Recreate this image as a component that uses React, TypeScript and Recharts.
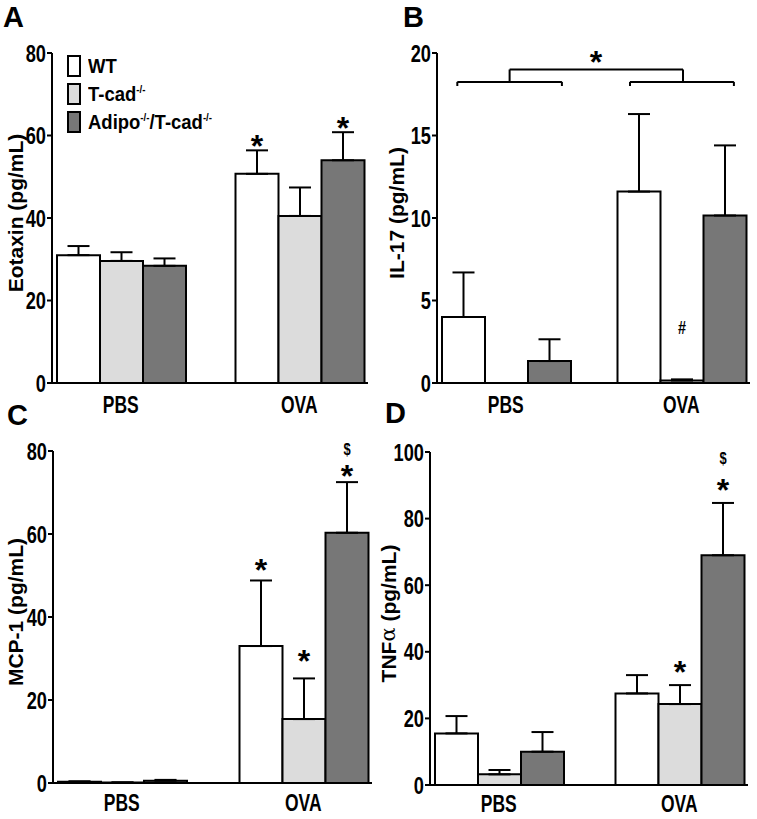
import React from 'react';
import {
  BarChart,
  Bar,
  XAxis,
  YAxis,
  ErrorBar,
  LabelList,
  Legend,
  Label,
  ReferenceLine,
  ReferenceDot,
} from 'recharts';

const FONT = '"Liberation Sans", Arial, sans-serif';
const NARROW = 0.76; // the figure uses a condensed face; squeeze Liberation Sans to match

const categories = ['PBS', 'OVA'];

// A - Eotaxin
const eotaxinWT = [31.0, 50.7];
const eotaxinWTErr = [2.2, 5.7];
const eotaxinTcad = [29.6, 40.5];
const eotaxinTcadErr = [2.1, 6.9];
const eotaxinAdipo = [28.4, 54.0];
const eotaxinAdipoErr = [1.8, 6.8];

// B - IL-17
const il17WT = [4.0, 11.6];
const il17WTErr = [2.7, 4.7];
const il17Tcad = [0, 0.15];
const il17TcadErr = [0, 0.07];
const il17Adipo = [1.33, 10.15];
const il17AdipoErr = [1.32, 4.25];

// C - MCP-1
const mcpWT = [0.3, 33.0];
const mcpWTErr = [0.1, 15.8];
const mcpTcad = [0.1, 15.4];
const mcpTcadErr = [0.05, 9.8];
const mcpAdipo = [0.55, 60.3];
const mcpAdipoErr = [0.2, 12.2];

// D - TNFa
const tnfWT = [15.5, 27.5];
const tnfWTErr = [5.2, 5.5];
const tnfTcad = [3.2, 24.3];
const tnfTcadErr = [1.3, 5.7];
const tnfAdipo = [10.0, 69.0];
const tnfAdipoErr = [5.9, 15.7];

// significance marks (symbol centre, in data units)
const eotaxinMarks = [
  { series: 'wt', cat: 'OVA', sym: '*', y: 59.2 },
  { series: 'adipo', cat: 'OVA', sym: '*', y: 63.6 },
];
const il17Marks = [{ series: 'tcad', cat: 'OVA', sym: '#', y: 3.4 }];
const mcpMarks = [
  { series: 'wt', cat: 'OVA', sym: '*', y: 52.9 },
  { series: 'tcad', cat: 'OVA', sym: '*', y: 31.0 },
  { series: 'adipo', cat: 'OVA', sym: '*', y: 75.7 },
  { series: 'adipo', cat: 'OVA', sym: '$', y: 80.6 },
];
const tnfMarks = [
  { series: 'tcad', cat: 'OVA', sym: '*', y: 36.0 },
  { series: 'adipo', cat: 'OVA', sym: '*', y: 90.6 },
  { series: 'adipo', cat: 'OVA', sym: '$', y: 98.3 },
];

// IL-17 bracket (x on a 0..1 scale spanning both categories)
const bracketGroups = [
  { x1: 0.112, x2: 0.41, peak: 0.261 },
  { x1: 0.604, x2: 0.9, peak: 0.755 },
];
const bracketLevel = 18.25;
const bracketTickEnd = 18.0;
const bracketTop = 19.0;
const bracketStar = { x: 0.507, y: 19.9 };

const SERIES = [
  { key: 'wt', name: 'WT', fill: '#ffffff' },
  { key: 'tcad', name: 'T-cad-/-', fill: '#dcdcdc' },
  { key: 'adipo', name: 'Adipo-/-/T-cad-/-', fill: '#777777' },
];

const supStyle = { fontSize: 11 };
const legendLabels: Record<string, React.ReactNode> = {
  wt: 'WT',
  tcad: (
    <>
      T-cad<sup style={supStyle}>-/-</sup>
    </>
  ),
  adipo: (
    <>
      Adipo<sup style={supStyle}>-/-</sup>/T-cad<sup style={supStyle}>-/-</sup>
    </>
  ),
};

const buildRows = (wt, wtErr, tcad, tcadErr, adipo, adipoErr) =>
  categories.map((cat, i) => ({
    cat,
    wt: wt[i],
    wtErr: [0, wtErr[i]],
    tcad: tcad[i],
    tcadErr: [0, tcadErr[i]],
    adipo: adipo[i],
    adipoErr: [0, adipoErr[i]],
  }));

const X_AXIS_H = 27;
const Y_AXIS_W = 40;
const EDGE = 5;
const GROUP_W = 127.5;
const STAR_FS = 32;
const TICK_FS = 24;
const SYMBOL_FS: Record<string, number> = { '*': STAR_FS, '#': 19, $: 17 };

const LegendBox = ({ payload }: any) => {
  const order = SERIES.map((s) => s.key);
  const items = [...(payload || [])].sort(
    (a: any, b: any) => order.indexOf(a.dataKey) - order.indexOf(b.dataKey),
  );
  return (
    <div style={{ fontFamily: FONT, fontWeight: 'bold', fontSize: 21, color: '#000' }}>
      {items.map((p: any) => (
        <div key={p.dataKey} style={{ display: 'flex', alignItems: 'center', height: 28 }}>
          <span
            style={{
              display: 'inline-block',
              width: 14,
              height: 22,
              boxSizing: 'border-box',
              border: '2px solid #000',
              background: p.color,
            }}
          />
          <span
            style={{
              marginLeft: 7,
              whiteSpace: 'nowrap',
              display: 'inline-block',
              transform: 'scaleX(0.88)',
              transformOrigin: 'left center',
            }}
          >
            {legendLabels[p.dataKey]}
          </span>
        </div>
      ))}
    </div>
  );
};

const YTick = (p: any) => (
  <text
    transform={`translate(${p.x},${p.y}) scale(${NARROW},1)`}
    textAnchor="end"
    dy="0.36em"
    fontFamily={FONT}
    fontWeight="bold"
    fontSize={TICK_FS}
    fill="#000"
  >
    {p.payload.value}
  </text>
);

const XTick = (p: any) => (
  <text
    transform={`translate(${p.x},${p.y}) scale(${NARROW},1)`}
    textAnchor="middle"
    dy="0.71em"
    fontFamily={FONT}
    fontWeight="bold"
    fontSize={23}
    fill="#000"
  >
    {p.payload.value}
  </text>
);

interface PanelProps {
  letter: string;
  letterPos: { x: number; y: number };
  left: number;
  top: number;
  width: number;
  height: number;
  plot: { l: number; r: number; t: number; b: number };
  yMax: number;
  yTicks: number[];
  yLabel: React.ReactNode;
  labelDist: number;
  xTickGap: number;
  rows: any[];
  marks: { series: string; cat: string; sym: string; y: number }[];
  legend?: boolean;
  bracket?: boolean;
}

const Panel: React.FC<PanelProps> = ({
  letter,
  letterPos,
  left,
  top,
  width,
  height,
  plot,
  yMax,
  yTicks,
  yLabel,
  labelDist,
  xTickGap,
  rows,
  marks,
  legend,
  bracket,
}) => {
  const margin = {
    top: plot.t - top,
    right: left + width - plot.r,
    left: plot.l - left - Y_AXIS_W,
    bottom: top + height - plot.b - X_AXIS_H,
  };
  const span = plot.r - plot.l;
  const gap = (span - 2 * EDGE) / 2 - GROUP_W;
  const pad = EDGE - gap;
  const pxPerUnit = (plot.b - plot.t) / yMax;

  // the label list is keyed on the category, so the label value tells which group the bar is in
  const renderMarks = (key: string) => (p: any) => {
    const vb = p.viewBox || p;
    const list = marks.filter((m) => m.series === key && m.cat === p.value);
    if (!list.length || vb == null) return null;
    const cx = vb.x + vb.width / 2;
    const base = vb.y + vb.height;
    return (
      <g>
        {list.map((m, i) => {
          const cy = base - m.y * pxPerUnit;
          const big = m.sym === '*';
          const fs = SYMBOL_FS[m.sym] || 17;
          return (
            <text
              key={i}
              transform={`translate(${cx},${cy}) scale(${big ? 1 : NARROW},1)`}
              dy={big ? 0.56 * fs : 0.36 * fs}
              textAnchor="middle"
              fontFamily={FONT}
              fontWeight="bold"
              fontSize={fs}
              fill="#000"
            >
              {m.sym}
            </text>
          );
        })}
      </g>
    );
  };

  const renderYLabel = (p: any) => {
    const vb = p.viewBox;
    const x = vb.x + vb.width - labelDist;
    const y = vb.y + vb.height / 2 - 5;
    return (
      <text
        x={x}
        y={y}
        transform={`rotate(-90 ${x} ${y})`}
        textAnchor="middle"
        dominantBaseline="central"
        fontFamily={FONT}
        fontWeight="bold"
        fontSize={21}
        fill="#000"
      >
        {yLabel}
      </text>
    );
  };

  const segment = (x1: number, y1: number, x2: number, y2: number, k: string) => (
    <ReferenceLine
      key={k}
      xAxisId="n"
      segment={[
        { x: x1, y: y1 },
        { x: x2, y: y2 },
      ]}
      stroke="#000"
      strokeWidth={2}
      ifOverflow="visible"
    />
  );

  return (
    <>
      <div
        style={{
          position: 'absolute',
          left: letterPos.x,
          top: letterPos.y,
          fontFamily: FONT,
          fontWeight: 'bold',
          fontSize: 29,
          lineHeight: 1,
        }}
      >
        {letter}
      </div>
      <div style={{ position: 'absolute', left, top }}>
        <BarChart
          width={width}
          height={height}
          data={rows}
          margin={margin}
          barCategoryGap={gap}
          barGap={0}
        >
          <XAxis
            dataKey="cat"
            padding={{ left: pad, right: pad }}
            height={X_AXIS_H}
            axisLine={{ stroke: '#000', strokeWidth: 2 }}
            tickLine={false}
            tickSize={6}
            tickMargin={xTickGap - 6}
            tick={<XTick />}
          />
          {bracket && (
            <XAxis
              xAxisId="n"
              type="number"
              domain={[0, 1]}
              allowDataOverflow
              hide
              padding={{ left: pad, right: pad }}
            />
          )}
          <YAxis
            width={Y_AXIS_W}
            domain={[0, yMax]}
            ticks={yTicks}
            interval={0}
            axisLine={{ stroke: '#000', strokeWidth: 2 }}
            tickLine={{ stroke: '#000', strokeWidth: 2 }}
            tickSize={5}
            tickMargin={1}
            tick={<YTick />}
          >
            <Label content={renderYLabel} />
          </YAxis>
          {SERIES.map((s) => (
            <Bar
              key={s.key}
              dataKey={s.key}
              name={s.name}
              fill={s.fill}
              stroke="#000"
              strokeWidth={2}
              isAnimationActive={false}
            >
              <ErrorBar
                dataKey={`${s.key}Err`}
                direction="y"
                width={11}
                stroke="#000"
                strokeWidth={2}
                isAnimationActive={false}
              />
              <LabelList dataKey="cat" content={renderMarks(s.key)} />
            </Bar>
          ))}
          {bracket &&
            bracketGroups.flatMap((g, i) => [
              segment(g.x1, bracketLevel, g.x2, bracketLevel, `h${i}`),
              segment(g.x1, bracketLevel, g.x1, bracketTickEnd, `l${i}`),
              segment(g.x2, bracketLevel, g.x2, bracketTickEnd, `r${i}`),
              segment(g.peak, bracketLevel, g.peak, bracketTop, `p${i}`),
            ])}
          {bracket &&
            segment(bracketGroups[0].peak, bracketTop, bracketGroups[1].peak, bracketTop, 'top')}
          {bracket && (
            <ReferenceDot
              xAxisId="n"
              x={bracketStar.x}
              y={bracketStar.y}
              r={0}
              ifOverflow="visible"
              shape={(p: any) => (
                <text
                  x={p.cx}
                  y={p.cy + 0.56 * STAR_FS}
                  textAnchor="middle"
                  fontFamily={FONT}
                  fontWeight="bold"
                  fontSize={STAR_FS}
                  fill="#000"
                >
                  *
                </text>
              )}
            />
          )}
          {legend && (
            <Legend
              layout="vertical"
              align="center"
              verticalAlign="middle"
              wrapperStyle={{ left: plot.l + 15 - left, top: plot.t - 1 - top, width: 'auto' }}
              content={<LegendBox />}
            />
          )}
        </BarChart>
      </div>
    </>
  );
};

export default function App() {
  return (
    <div
      style={{
        position: 'absolute',
        left: 0,
        top: 0,
        width: 757,
        height: 819,
        background: '#fff',
        overflow: 'hidden',
      }}
    >
      <Panel
        letter="A"
        letterPos={{ x: 3, y: 3 }}
        left={0}
        top={0}
        width={378}
        height={420}
        plot={{ l: 52, r: 368, t: 53, b: 383 }}
        yMax={80}
        yTicks={[0, 20, 40, 60, 80]}
        yLabel="Eotaxin (pg/mL)"
        labelDist={37}
        xTickGap={14}
        rows={buildRows(eotaxinWT, eotaxinWTErr, eotaxinTcad, eotaxinTcadErr, eotaxinAdipo, eotaxinAdipoErr)}
        marks={eotaxinMarks}
        legend
      />
      <Panel
        letter="B"
        letterPos={{ x: 403, y: 3 }}
        left={360}
        top={0}
        width={397}
        height={420}
        plot={{ l: 437, r: 750, t: 53, b: 383 }}
        yMax={20}
        yTicks={[0, 5, 10, 15, 20]}
        yLabel="IL-17 (pg/mL)"
        labelDist={41}
        xTickGap={14}
        rows={buildRows(il17WT, il17WTErr, il17Tcad, il17TcadErr, il17Adipo, il17AdipoErr)}
        marks={il17Marks}
        bracket
      />
      <Panel
        letter="C"
        letterPos={{ x: 7, y: 401 }}
        left={0}
        top={400}
        width={378}
        height={419}
        plot={{ l: 53, r: 372, t: 451, b: 783 }}
        yMax={80}
        yTicks={[0, 20, 40, 60, 80]}
        yLabel="MCP-1 (pg/mL)"
        labelDist={38}
        xTickGap={12}
        rows={buildRows(mcpWT, mcpWTErr, mcpTcad, mcpTcadErr, mcpAdipo, mcpAdipoErr)}
        marks={mcpMarks}
      />
      <Panel
        letter="D"
        letterPos={{ x: 385, y: 399 }}
        left={360}
        top={400}
        width={397}
        height={419}
        plot={{ l: 430, r: 748, t: 452, b: 785 }}
        yMax={100}
        yTicks={[0, 20, 40, 60, 80, 100]}
        yLabel={
          <>
            <tspan>TNF</tspan>
            <tspan fontFamily='"DejaVu Serif", serif' fontWeight="normal">
              α
            </tspan>
            <tspan> (pg/mL)</tspan>
          </>
        }
        labelDist={42}
        xTickGap={11}
        rows={buildRows(tnfWT, tnfWTErr, tnfTcad, tnfTcadErr, tnfAdipo, tnfAdipoErr)}
        marks={tnfMarks}
      />
    </div>
  );
}
